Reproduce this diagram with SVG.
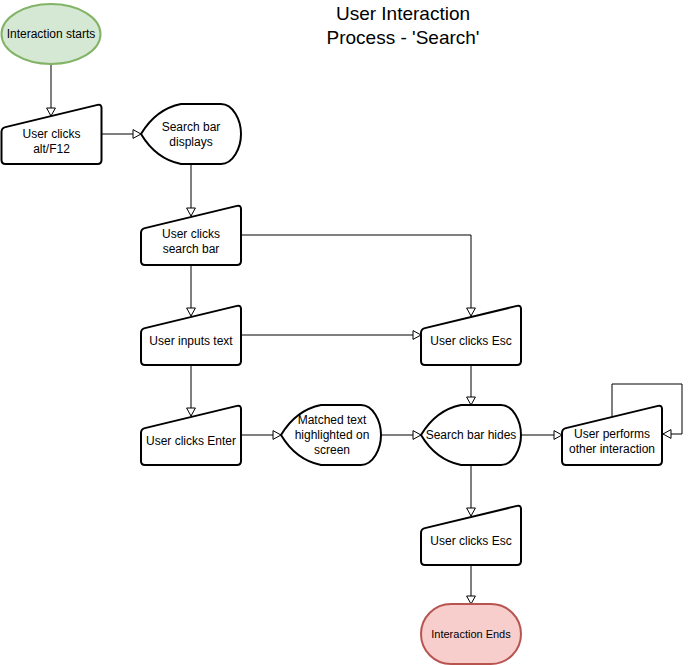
<svg xmlns="http://www.w3.org/2000/svg" xmlns:xlink="http://www.w3.org/1999/xlink" width="692" height="665" viewBox="0 0 692 665">
<style>
.sh{fill:#ffffff;stroke:#000000;stroke-width:2;stroke-linejoin:round}
.t{font-family:"Liberation Sans",Arial,Helvetica,sans-serif;font-size:12px;fill:#000000;text-anchor:middle}
.ttl{font-family:"Liberation Sans",Arial,Helvetica,sans-serif;font-size:19px;fill:#000000;text-anchor:middle}
.c{fill:none;stroke:#000000;stroke-width:1;marker-end:url(#arr)}
</style>
<defs>
<marker id="arr" viewBox="0 0 10 10" refX="9" refY="5" markerWidth="10" markerHeight="10" markerUnits="userSpaceOnUse" orient="auto">
<path d="M1,0.6 L9,5 L1,9.4 Z" fill="#ffffff" stroke="#000000" stroke-width="1"/>
</marker>
<path id="mi" d="M0,28 Q0,24 3.9,23.1 L96.1,0.9 Q100,0 100,4 L100,56 Q100,60 96,60 L4,60 Q0,60 0,56 Z"/>
<path id="dp" d="M0,30 Q15,5 40,0 L80,0 C92,0 100,16 100,30 C100,44 92,60 80,60 L40,60 Q15,55 0,30 Z"/>
</defs>
<rect width="692" height="665" fill="#ffffff"/>
<g id="title">
<text class="ttl" x="403" y="20">User Interaction</text>
<text class="ttl" x="403" y="44">Process - 'Search'</text>
</g>
<g id="connectors">
<path class="c" d="M51,64 L51,116"/>
<path class="c" d="M102,134 L141,134"/>
<path class="c" d="M191,164 L191,216"/>
<path class="c" d="M241,235 L471,235 L471,316"/>
<path class="c" d="M191,265 L191,316"/>
<path class="c" d="M241,335 L421,335"/>
<path class="c" d="M191,365 L191,416"/>
<path class="c" d="M241,435 L281,435"/>
<path class="c" d="M381,435 L421,435"/>
<path class="c" d="M471,365 L471,405"/>
<path class="c" d="M521,435 L562,435"/>
<path class="c" d="M612,417 L612,384 L682,384 L682,434 L663,434"/>
<path class="c" d="M471,465 L471,516"/>
<path class="c" d="M471,565 L471,604"/>
</g>
<g id="start">
<ellipse cx="51" cy="34" rx="49.5" ry="30" fill="#d5e8d4" stroke="#82b366" stroke-width="2"/>
<text class="t" x="51" y="38">Interaction starts</text>
</g>
<g id="clicks-alt">
<use xlink:href="#mi" href="#mi" class="sh" x="1.5" y="104"/>
<text class="t" x="51.5" y="137.5">User clicks</text>
<text class="t" x="51.5" y="152.5">alt/F12</text>
</g>
<g id="bar-displays">
<use xlink:href="#dp" href="#dp" class="sh" x="141" y="104"/>
<text class="t" x="191" y="130.5">Search bar</text>
<text class="t" x="191" y="145.5">displays</text>
</g>
<g id="clicks-bar">
<use xlink:href="#mi" href="#mi" class="sh" x="141" y="205"/>
<text class="t" x="191" y="237.5">User clicks</text>
<text class="t" x="191" y="252.5">search bar</text>
</g>
<g id="inputs-text">
<use xlink:href="#mi" href="#mi" class="sh" x="141" y="305"/>
<text class="t" x="191" y="345">User inputs text</text>
</g>
<g id="clicks-enter">
<use xlink:href="#mi" href="#mi" class="sh" x="141" y="405"/>
<text class="t" x="191" y="445">User clicks Enter</text>
</g>
<g id="matched">
<use xlink:href="#dp" href="#dp" class="sh" x="281" y="405"/>
<text class="t" x="332" y="424">Matched text</text>
<text class="t" x="332" y="439">highlighted on</text>
<text class="t" x="332" y="454">screen</text>
</g>
<g id="clicks-esc">
<use xlink:href="#mi" href="#mi" class="sh" x="421" y="305"/>
<text class="t" x="471" y="345">User clicks Esc</text>
</g>
<g id="bar-hides">
<use xlink:href="#dp" href="#dp" class="sh" x="421" y="405"/>
<text class="t" x="471" y="439">Search bar hides</text>
</g>
<g id="other">
<use xlink:href="#mi" href="#mi" class="sh" x="562" y="405"/>
<text class="t" x="612" y="438">User performs</text>
<text class="t" x="612" y="453">other interaction</text>
</g>
<g id="clicks-esc-2">
<use xlink:href="#mi" href="#mi" class="sh" x="421" y="505"/>
<text class="t" x="471" y="545">User clicks Esc</text>
</g>
<g id="ends">
<rect x="421" y="604" width="100" height="60" rx="30" ry="30" fill="#f8cecc" stroke="#b85450" stroke-width="2"/>
<text class="t" x="471" y="638" style="font-size:11px">Interaction Ends</text>
</g>
</svg>
